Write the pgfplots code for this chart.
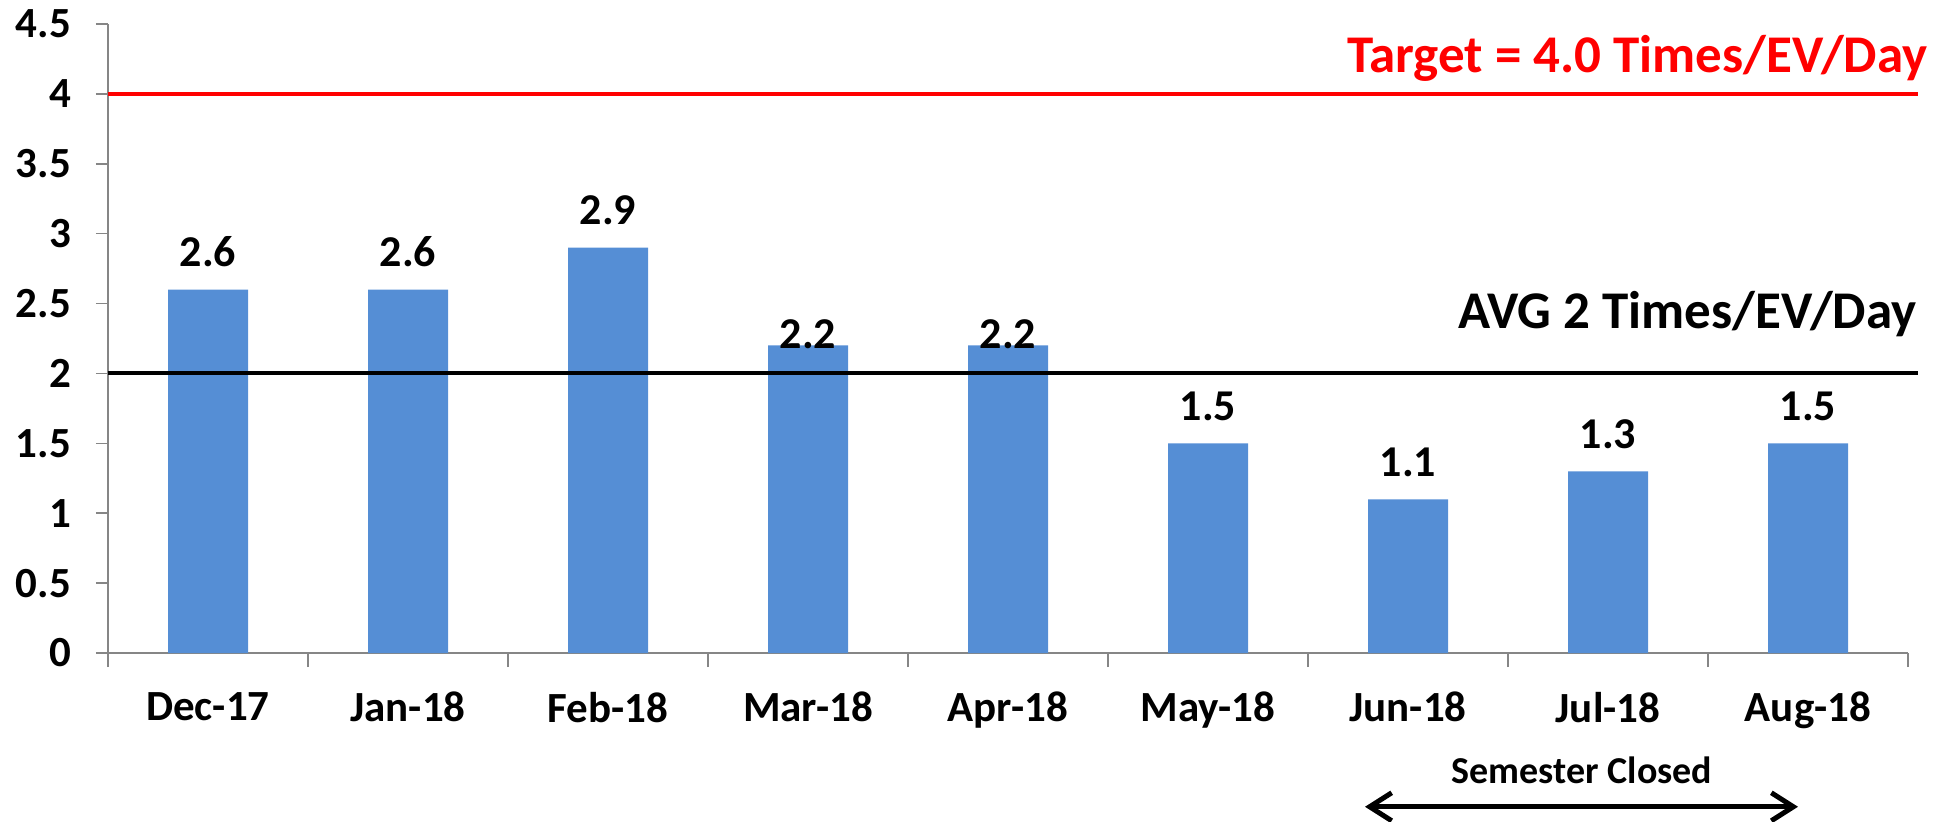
\documentclass[border=0pt]{standalone}
\usepackage{fontspec}
\setmainfont{Carlito}
\usepackage{pgfplots}
\pgfplotsset{compat=1.18}
\usetikzlibrary{arrows.meta}
\definecolor{barblue}{RGB}{85,142,213}
\definecolor{axgray}{RGB}{134,134,134}
\begin{document}
\begin{tikzpicture}
\begin{axis}[
  name=main,
  width=900pt, height=314.5pt, scale only axis,
  xmin=-0.5, xmax=8.5, ymin=0, ymax=4.5,
  axis x line*=bottom, axis y line*=left,
  axis line style={axgray, line width=0.75pt},
  tick style={axgray, line width=0.75pt},
  tick align=outside,
  xtick={0,1,2,3,4,5,6,7,8},
  xticklabels={Dec-17,Jan-18,Feb-18,Mar-18,Apr-18,May-18,Jun-18,Jul-18,Aug-18},
  major x tick style={draw=none},
  minor xtick={-0.5,0.5,1.5,2.5,3.5,4.5,5.5,6.5,7.5,8.5},
  minor tick length=7pt,
  major tick length=6pt,
  ytick={0,0.5,1,1.5,2,2.5,3,3.5,4,4.5},
  /pgf/number format/assume math mode=true,
  yticklabel style={font=\bfseries\fontsize{21.5}{25}\selectfont, xshift=-9pt},
  xticklabel style={font=\bfseries\fontsize{21.5}{25}\selectfont, anchor=north, yshift=-10pt},
  ybar, bar width=40pt, bar shift=0pt,
  clip=false,
]
\addplot[fill=barblue, draw=none,
  nodes near coords,
  every node near coord/.append style={anchor=base, inner sep=0pt, yshift=11.5pt, text=black, font=\bfseries\fontsize{22}{26}\selectfont}]
  coordinates {(0,2.6) (1,2.6) (2,2.9) (5,1.5) (6,1.1) (7,1.3) (8,1.5)};
\addplot[fill=barblue, draw=none,
  nodes near coords,
  every node near coord/.append style={anchor=base, inner sep=0pt, yshift=-1.5pt, text=black, font=\bfseries\fontsize{22}{26}\selectfont}]
  coordinates {(3,2.2) (4,2.2)};
\addplot[sharp plot, red, line width=2pt] coordinates {(-0.5,4) (8.55,4)};
\addplot[sharp plot, black, line width=2pt] coordinates {(-0.5,2) (8.55,2)};
\node[anchor=base east, inner sep=0pt, text=red, font=\bfseries\fontsize{26.5}{30}\selectfont] at (axis cs:8.6,4.156) {Target = 4.0 Times/EV/Day};
\node[anchor=base east, inner sep=0pt, font=\bfseries\fontsize{26.5}{30}\selectfont] at (axis cs:8.545,2.325) {AVG 2 Times/EV/Day};
\node[anchor=base, inner sep=0pt, font=\bfseries\fontsize{19}{22}\selectfont] at (axis cs:6.87,-0.93) {Semester Closed};
\draw[line width=2.5pt, {Straight Barb[length=11pt,width=14pt]}-{Straight Barb[length=11pt,width=14pt]}] (axis cs:5.785,-1.10) -- (axis cs:7.95,-1.10);
\end{axis}
\pgfresetboundingbox
\path (main.south west) ++(-54pt,-84pt) rectangle ++(976.5pt,410.5pt);
\end{tikzpicture}
\end{document}
